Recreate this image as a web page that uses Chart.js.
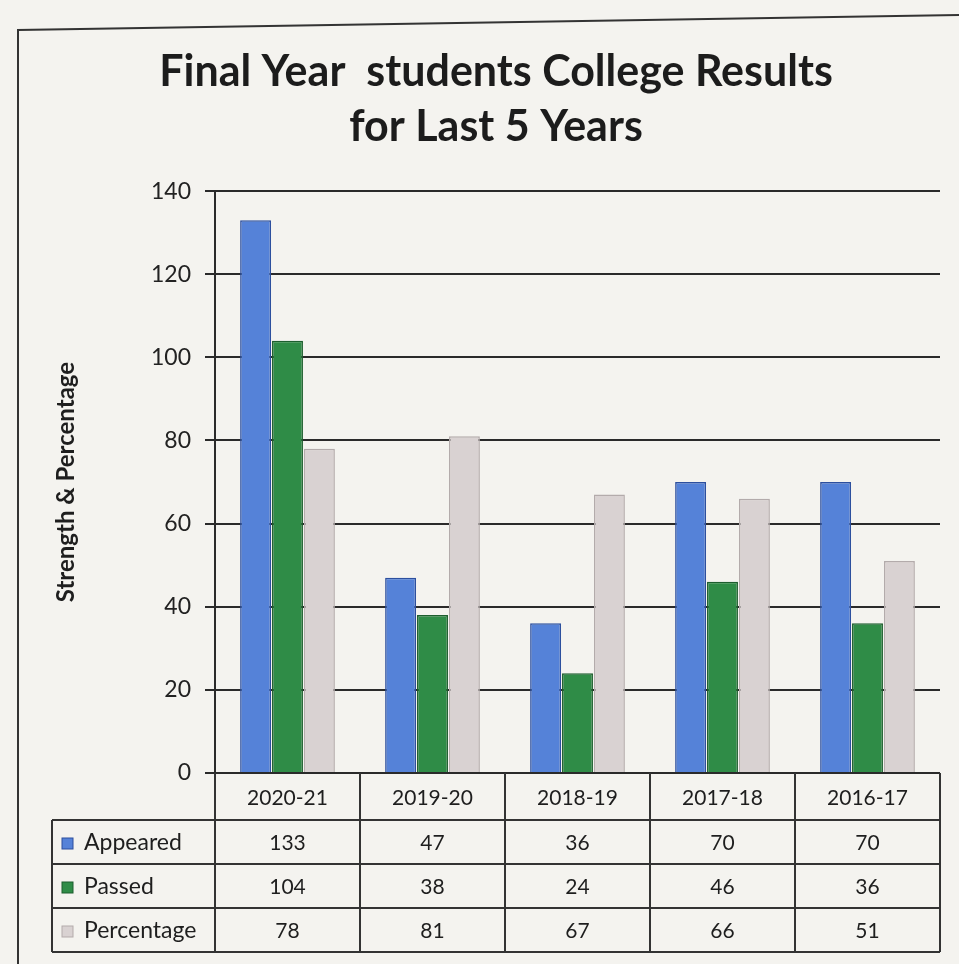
<!DOCTYPE html>
<html>
<head>
<meta charset="utf-8">
<script src="https://cdn.jsdelivr.net/npm/chart.js@4.4.1/dist/chart.umd.min.js"></script>
<style>
  html, body { margin: 0; padding: 0; background: #f4f3ef; }
  #wrap { width: 959px; height: 964px; }
</style>
</head>
<body>
<div id="wrap"><canvas id="myChart" width="959" height="964"></canvas></div>
<script>
// data
const categories = ['2020-21', '2019-20', '2018-19', '2017-18', '2016-17'];
const appeared = [133, 47, 36, 70, 70];
const passed = [104, 38, 24, 46, 36];
const percentage = [78, 81, 67, 66, 51];
const seriesNames = ['Appeared', 'Passed', 'Percentage'];
const yMin = 0, yMax = 140, yStep = 20;

const FONT = 'Lato, "Open Sans", sans-serif';
const fillCols = ['#5582d8', '#2f8c47', '#d9d2d2'];
const edgeCols = ['#2c4f9e', '#1d5e2e', '#b3abab'];

// frame round the whole chart + data table under the plot
const tablePlugin = {
    id: 'dataTable',
    beforeDraw(chart) {
        let c = chart.ctx;
        c.save();
        c.strokeStyle = '#333';
        c.lineWidth = 2;
        c.beginPath();
        c.moveTo(18, 964);
        c.lineTo(18, 30);
        c.lineTo(959, 15);
        c.stroke();
        c.restore();
    },
    afterDraw(chart) {
        let c = chart.ctx;
        let x = chart.scales.x;
        let area = chart.chartArea;
        let n = categories.length;
        let cw = (area.right - area.left) / n;
        let top = area.bottom;
        let headH = 47, rowH = 44;
        let legLeft = 52;
        let tableRight = area.left + cw * n;
        let bottom = top + headH + rowH * 3;

        c.save();
        c.strokeStyle = '#333';
        c.lineWidth = 2;
        c.beginPath();
        // vertical lines of the value columns
        for (let i = 0; i <= n; i++) {
            let px = area.left + cw * i;
            c.moveTo(px, top);
            c.lineTo(px, bottom);
        }
        // legend column left edge
        c.moveTo(legLeft, top + headH);
        c.lineTo(legLeft, bottom);
        // horizontal lines
        for (let r = 1; r <= 4; r++) {
            let py = top + headH + rowH * (r - 1);
            c.moveTo(legLeft, py);
            c.lineTo(tableRight, py);
        }
        c.stroke();

        c.fillStyle = '#1e1e1e';
        c.textAlign = 'center';
        c.textBaseline = 'middle';
        c.font = '21px ' + FONT;
        categories.forEach((cat, i) => {
            c.fillText(cat, x.getPixelForValue(i), top + headH / 2 + 2);
        });
        chart.data.datasets.forEach((ds, r) => {
            let cy = top + headH + rowH * r + rowH / 2 + 1;
            c.font = '21px ' + FONT;
            ds.data.forEach((v, i) => {
                c.fillText(String(v), x.getPixelForValue(i), cy);
            });
            // legend key + name
            c.fillStyle = ds.backgroundColor;
            c.fillRect(legLeft + 10, cy - 5, 11, 11);
            c.strokeStyle = ds.borderColor;
            c.lineWidth = 1;
            c.strokeRect(legLeft + 10, cy - 5, 11, 11);
            c.fillStyle = '#1e1e1e';
            c.textAlign = 'left';
            c.font = '23px ' + FONT;
            c.fillText(ds.label, legLeft + 32, cy);
            c.textAlign = 'center';
        });
        c.restore();
    }
};

let ctx = document.getElementById('myChart').getContext('2d');
let wykres = new Chart(ctx, {
    type: 'bar',
    data: {
        labels: categories,
        datasets: [
            { label: seriesNames[0], data: appeared, backgroundColor: fillCols[0], borderColor: edgeCols[0] },
            { label: seriesNames[1], data: passed, backgroundColor: fillCols[1], borderColor: edgeCols[1] },
            { label: seriesNames[2], data: percentage, backgroundColor: fillCols[2], borderColor: edgeCols[2] }
        ]
    },
    options: {
        responsive: false,
        animation: false,
        layout: { padding: { left: 52, right: 19, top: 0, bottom: 191 } },
        datasets: { bar: { categoryPercentage: 0.66, barPercentage: 0.97, borderWidth: 1.5 } },
        plugins: {
            legend: { display: false },
            tooltip: { enabled: false },
            title: {
                display: true,
                text: ['Final Year  students College Results', 'for Last 5 Years'],
                color: '#1c1c1c',
                font: { family: FONT, size: 43, weight: 'bold', lineHeight: 1.28 },
                padding: { top: 45, bottom: 36 }
            }
        },
        scales: {
            x: { display: false },
            y: {
                min: yMin,
                max: yMax,
                afterFit: (s) => { s.width = 163; },
                ticks: { stepSize: yStep, color: '#222', padding: 14, font: { family: FONT, size: 23 } },
                grid: { color: '#2a2a2a', lineWidth: 2, tickLength: 10 },
                border: { display: true, color: '#2a2a2a', width: 2 },
                title: {
                    display: true,
                    text: 'Strength & Percentage',
                    color: '#1e1e1e',
                    font: { family: FONT, size: 24, weight: 'bold' },
                    padding: 0
                }
            }
        }
    },
    plugins: [tablePlugin]
});
</script>
</body>
</html>
